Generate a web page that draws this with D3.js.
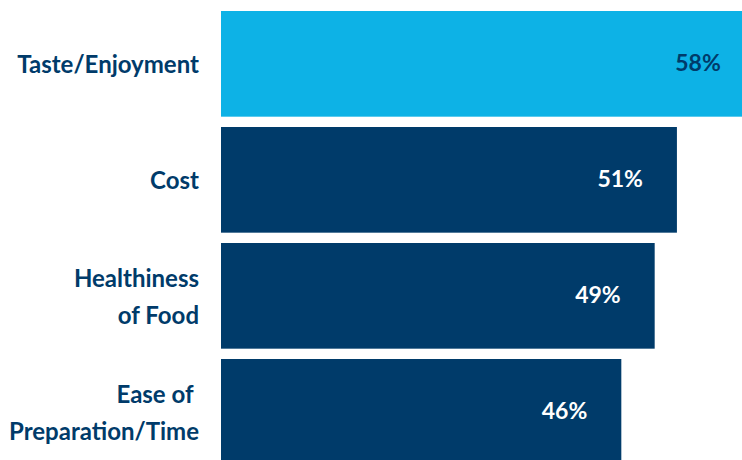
<!DOCTYPE html>
<html>
<head>
<meta charset="utf-8">
<script src="https://cdn.jsdelivr.net/npm/d3@7/dist/d3.min.js"></script>
<style>
  html, body { margin: 0; padding: 0; background: #ffffff; }
  svg { display: block; }
</style>
</head>
<body>
<svg id="chart" width="742" height="460"></svg>
<script>
// Drivers of food choice, share of respondents
const categories = [
  ["Taste/Enjoyment"],
  ["Cost"],
  ["Healthiness", "of Food"],
  ["Ease of\u00a0", "Preparation/Time"]
];
const values = [58, 51, 49, 46];
const valueLabels = ["58%", "51%", "49%", "46%"];
const highlighted = [true, false, false, false];

const width = 742, height = 460;
const left = 221;
const navy = "#003b6a";
const sky = "#0db2e6";
const font = "Lato, 'Open Sans', sans-serif";

const svg = d3.select("#chart");

const step = 116, pad = 0.089;
const y = d3.scaleBand()
  .domain(d3.range(values.length))
  .range([11, 11 + step * values.length - step * pad])
  .paddingInner(pad)
  .paddingOuter(0);

const x = d3.scaleLinear()
  .domain([10, 60])
  .range([left, 777]);

const rows = svg.selectAll("g.row")
  .data(values.map((v, i) => ({ v, i })))
  .join("g")
  .attr("class", "row");

rows.append("rect")
  .attr("x", x(10))
  .attr("y", d => y(d.i))
  .attr("width", d => x(d.v) - x(10))
  .attr("height", y.bandwidth())
  .attr("fill", d => highlighted[d.i] ? sky : navy);

rows.append("text")
  .attr("x", d => x(d.v) - 34)
  .attr("y", d => y(d.i) + y.bandwidth() / 2)
  .attr("dy", "0.3em")
  .attr("text-anchor", "end")
  .attr("font-family", font)
  .attr("font-weight", 700)
  .attr("font-size", 23)
  .attr("fill", d => highlighted[d.i] ? navy : "#ffffff")
  .text(d => valueLabels[d.i]);

// Category labels, right-aligned against the bars
const lineHeight = 37;
rows.append("text")
  .attr("text-anchor", "end")
  .attr("font-family", font)
  .attr("font-weight", 700)
  .attr("font-size", 24)
  .attr("fill", navy)
  .style("white-space", "pre")
  .each(function(d) {
    const lines = categories[d.i];
    const cy = y(d.i) + y.bandwidth() / 2;
    const first = cy + 9.5 - (lines.length - 1) * lineHeight / 2;
    d3.select(this).selectAll("tspan")
      .data(lines)
      .join("tspan")
      .attr("x", 199)
      .attr("y", (t, k) => first + k * lineHeight)
      .text(t => t);
  });
</script>
</body>
</html>
